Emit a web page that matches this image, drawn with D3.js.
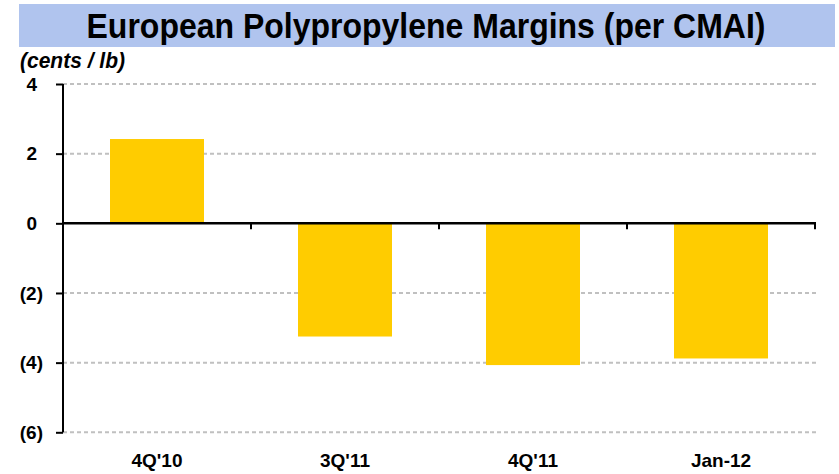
<!DOCTYPE html>
<html>
<head>
<meta charset="utf-8">
<script src="https://cdn.jsdelivr.net/npm/d3@7"></script>
<style>
  html, body { margin: 0; padding: 0; background: #fff; }
  svg { display: block; }
  text { font-family: "Liberation Sans", Arial, sans-serif; }
</style>
</head>
<body>
<svg id="chart" width="839" height="474"></svg>
<script>
const categories = ["4Q'10", "3Q'11", "4Q'11", "Jan-12"];
const values = [2.42, -3.25, -4.07, -3.88];
const yTicks = [4, 2, 0, -2, -4, -6];
const yTickLabels = ["4", "2", "0", "(2)", "(4)", "(6)"];
const titleText = "European Polypropylene Margins (per CMAI)";
const unitText = "(cents / lb)";

const svg = d3.select("#chart");

// Title band
svg.append("rect")
  .attr("x", 19).attr("y", 4).attr("width", 816).attr("height", 43)
  .attr("fill", "#b0c4ee");
svg.append("text")
  .attr("transform", "translate(426,38) scale(1,1.1)")
  .attr("text-anchor", "middle")
  .attr("font-size", 32).attr("font-weight", "bold")
  .attr("fill", "#000")
  .text(titleText);

svg.append("text")
  .attr("transform", "translate(20,68) scale(1,1.05)")
  .attr("font-size", 21).attr("font-weight", "bold").attr("font-style", "italic")
  .text(unitText);

const x = d3.scaleBand().domain(categories).range([63, 815]).paddingInner(0.5).paddingOuter(0.25);
const y = d3.scaleLinear().domain([-6, 4]).range([432.3, 84]);

// Grid lines
svg.append("g").selectAll("line")
  .data(yTicks.filter(d => d !== 0))
  .join("line")
  .attr("x1", 63).attr("x2", 816)
  .attr("y1", d => y(d)).attr("y2", d => y(d))
  .attr("stroke", "#c0c0c0").attr("stroke-width", 2)
  .attr("stroke-dasharray", "4,3");

// Bars
svg.append("g").selectAll("rect")
  .data(values)
  .join("rect")
  .attr("x", (d, i) => x(categories[i]))
  .attr("width", x.bandwidth())
  .attr("y", d => y(Math.max(0, d)))
  .attr("height", d => Math.abs(y(d) - y(0)))
  .attr("fill", "#ffcc00");

// Y axis
const yAxis = d3.axisLeft(y).tickValues(yTicks)
  .tickFormat((d, i) => yTickLabels[i]).tickSize(7).tickPadding(13);
const yg = svg.append("g").attr("transform", "translate(63,0)").call(yAxis);
yg.select(".domain").attr("stroke", "#000").attr("stroke-width", 2)
  .attr("d", `M0,${y(4)}V${y(-6)}`);
yg.selectAll(".tick line").attr("stroke", "#000").attr("stroke-width", 2);
yg.selectAll(".tick text")
  .attr("font-family", "'Liberation Sans', Arial, sans-serif")
  .attr("font-size", 19).attr("font-weight", "bold").attr("fill", "#000")
  .attr("dx", d => d >= 0 ? -6 : 0);

// Zero line with boundary ticks
svg.append("line")
  .attr("x1", 63).attr("x2", 816)
  .attr("y1", y(0)).attr("y2", y(0))
  .attr("stroke", "#000").attr("stroke-width", 2.5);
const boundaries = categories.map(c => x(c) + x.bandwidth() + x.step() * x.paddingInner() / 2);
svg.append("g").selectAll("line")
  .data(boundaries)
  .join("line")
  .attr("x1", d => d).attr("x2", d => d)
  .attr("y1", y(0)).attr("y2", y(0) + 6)
  .attr("stroke", "#000").attr("stroke-width", 2);

// X labels
svg.append("g").selectAll("text")
  .data(categories)
  .join("text")
  .attr("x", d => x(d) + x.bandwidth() / 2)
  .attr("y", 467)
  .attr("text-anchor", "middle")
  .attr("font-size", 19).attr("font-weight", "bold")
  .text(d => d);
</script>
</body>
</html>
